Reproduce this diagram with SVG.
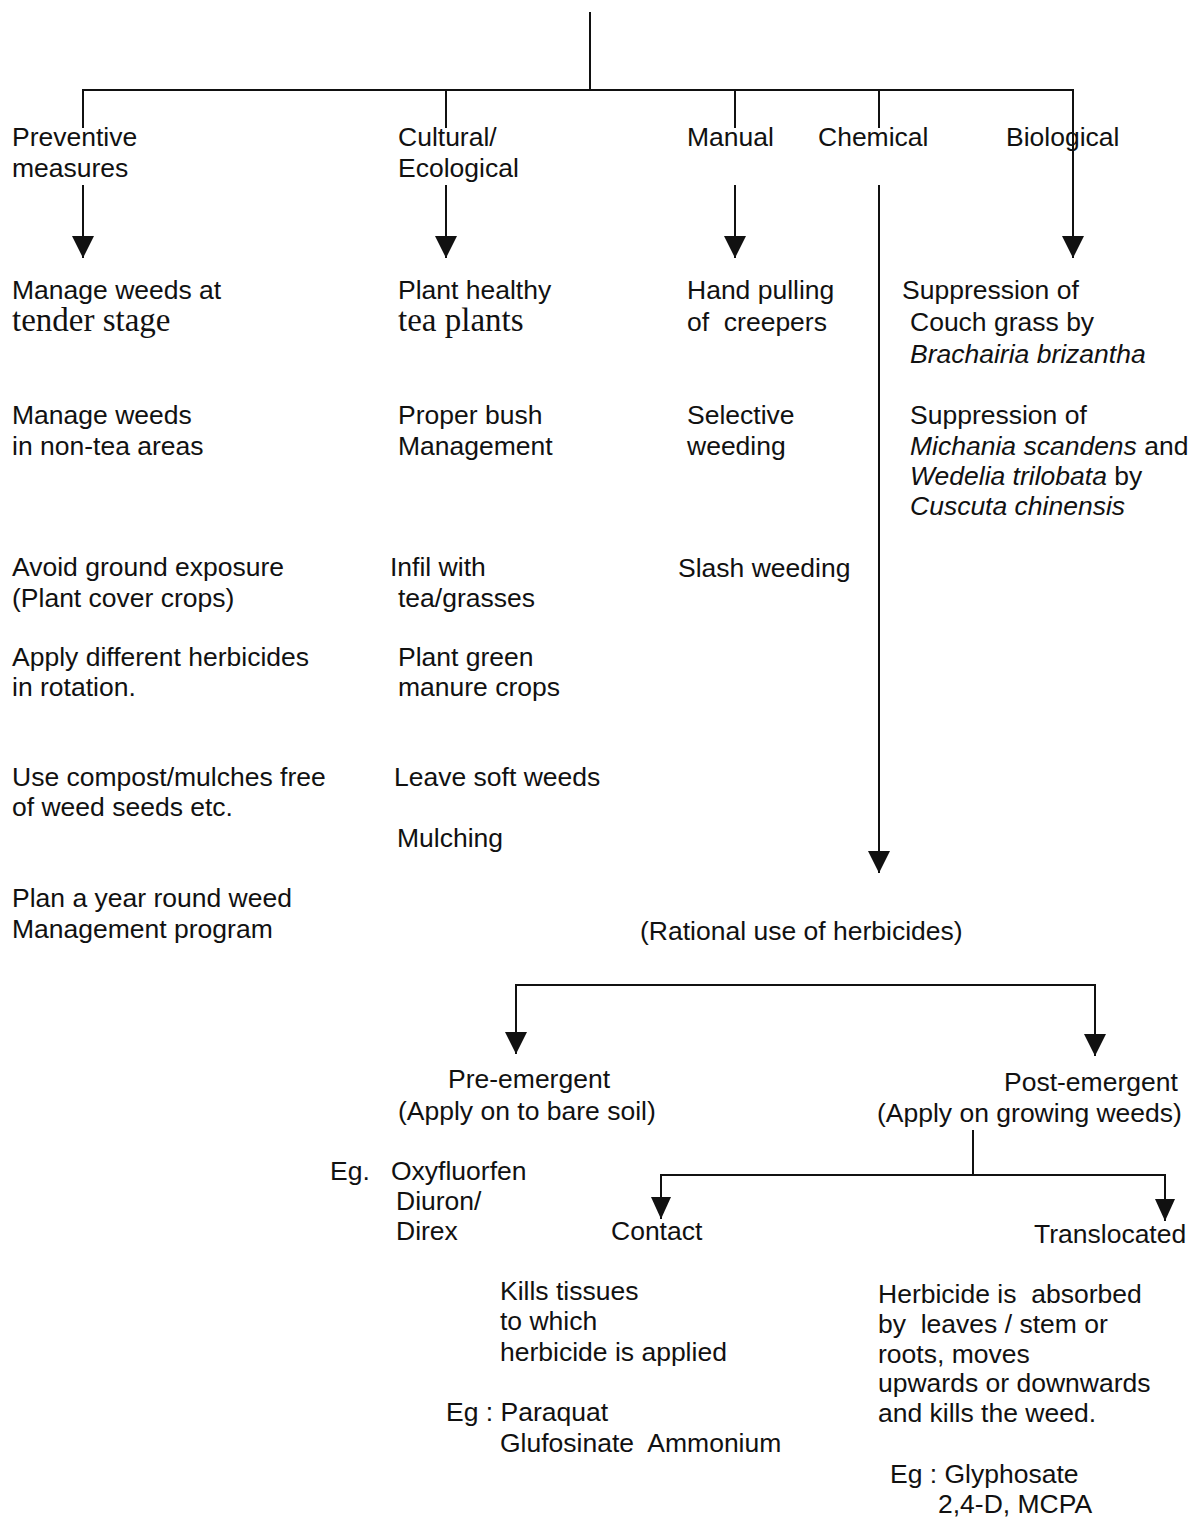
<svg xmlns="http://www.w3.org/2000/svg" width="1192" height="1520" viewBox="0 0 1192 1520">
<style>
  text { font-family: "Liberation Sans", Arial, sans-serif; font-size: 26.5px; fill: #111; }
  .serif { font-family: "Liberation Serif", "Times New Roman", serif; font-size: 33px; }
  .it { font-style: italic; }
  .ln { stroke: #111; stroke-width: 2; fill: none; }
  .ar { marker-end: url(#ah); }
  .ars { marker-end: url(#ahs); }
</style>
<defs>
  <marker id="ah" markerUnits="userSpaceOnUse" markerWidth="24" markerHeight="24" viewBox="0 0 24 24" refX="22" refY="11" orient="auto">
    <path d="M0,0 L22,11 L0,22 z" fill="#111"/>
  </marker>
  <marker id="ahs" markerUnits="userSpaceOnUse" markerWidth="24" markerHeight="24" viewBox="0 0 24 24" refX="22" refY="11" orient="auto">
    <path d="M0,1 L22,11 L0,21 z" fill="#111"/>
  </marker>
</defs>
<rect width="1192" height="1520" fill="#fff"/>

<g id="connectors">
  <line class="ln" x1="590" y1="12" x2="590" y2="90"/>
  <line class="ln" x1="82" y1="90" x2="1074" y2="90"/>
  <line class="ln" x1="83" y1="90" x2="83" y2="128"/>
  <line class="ln" x1="446" y1="90" x2="446" y2="128"/>
  <line class="ln" x1="735" y1="90" x2="735" y2="128"/>
  <line class="ln" x1="879" y1="90" x2="879" y2="128"/>
  <line class="ln ar" x1="1073" y1="90" x2="1073" y2="258"/>
  <line class="ln ar" x1="83" y1="185" x2="83" y2="258"/>
  <line class="ln ar" x1="446" y1="185" x2="446" y2="258"/>
  <line class="ln ar" x1="735" y1="185" x2="735" y2="258"/>
  <line class="ln ar" x1="879" y1="185" x2="879" y2="873"/>
  <line class="ln" x1="515" y1="985" x2="1096" y2="985"/>
  <line class="ln ar" x1="516" y1="985" x2="516" y2="1054"/>
  <line class="ln ar" x1="1095" y1="985" x2="1095" y2="1056"/>
  <line class="ln" x1="973" y1="1130" x2="973" y2="1175"/>
  <line class="ln" x1="660" y1="1175" x2="1166" y2="1175"/>
  <line class="ln ars" x1="661" y1="1175" x2="661" y2="1219"/>
  <line class="ln ars" x1="1165" y1="1175" x2="1165" y2="1221"/>
</g>

<g id="preventive">
  <text x="12" y="146">Preventive</text>
  <text x="12" y="177">measures</text>
</g>
<g id="cultural">
  <text x="398" y="146">Cultural/</text>
  <text x="398" y="177">Ecological</text>
</g>
<g id="manual"><text x="687" y="146">Manual</text></g>
<g id="chemical"><text x="818" y="146">Chemical</text></g>
<g id="biological"><text x="1006" y="146">Biological</text></g>

<g id="prev-items">
  <text x="12" y="299">Manage weeds at</text>
  <text class="serif" x="12" y="331">tender stage</text>
  <text x="12" y="424">Manage weeds</text>
  <text x="12" y="455">in non-tea areas</text>
  <text x="12" y="576">Avoid ground exposure</text>
  <text x="12" y="607">(Plant cover crops)</text>
  <text x="12" y="666">Apply different herbicides</text>
  <text x="12" y="696">in rotation.</text>
  <text x="12" y="786">Use compost/mulches free</text>
  <text x="12" y="816">of weed seeds etc.</text>
  <text x="12" y="907">Plan a year round weed</text>
  <text x="12" y="938">Management program</text>
</g>

<g id="cult-items">
  <text x="398" y="299">Plant healthy</text>
  <text class="serif" x="398" y="331">tea plants</text>
  <text x="398" y="424">Proper bush</text>
  <text x="398" y="455">Management</text>
  <text x="390" y="576">Infil with</text>
  <text x="398" y="607">tea/grasses</text>
  <text x="398" y="666">Plant green</text>
  <text x="398" y="696">manure crops</text>
  <text x="394" y="786">Leave soft weeds</text>
  <text x="397" y="847">Mulching</text>
</g>

<g id="manual-items">
  <text x="687" y="299">Hand pulling</text>
  <text x="687" y="331" xml:space="preserve">of  creepers</text>
  <text x="687" y="424">Selective</text>
  <text x="687" y="455">weeding</text>
  <text x="678" y="577">Slash weeding</text>
</g>

<g id="bio-items">
  <text x="902" y="299">Suppression of</text>
  <text x="910" y="331">Couch grass by</text>
  <text class="it" x="910" y="363">Brachairia brizantha</text>
  <text x="910" y="424">Suppression of</text>
  <text x="910" y="455"><tspan class="it">Michania scandens</tspan> and</text>
  <text x="910" y="485"><tspan class="it">Wedelia trilobata</tspan> by</text>
  <text class="it" x="910" y="515">Cuscuta chinensis</text>
</g>

<g id="rational"><text x="640" y="940">(Rational use of herbicides)</text></g>

<g id="pre-emergent">
  <text x="448" y="1088">Pre-emergent</text>
  <text x="398" y="1120">(Apply on to bare soil)</text>
</g>
<g id="pre-eg">
  <text x="330" y="1180">Eg.</text>
  <text x="391" y="1180">Oxyfluorfen</text>
  <text x="396" y="1210">Diuron/</text>
  <text x="396" y="1240">Direx</text>
</g>

<g id="post-emergent">
  <text x="1004" y="1091">Post-emergent</text>
  <text x="877" y="1122">(Apply on growing weeds)</text>
</g>

<g id="contact">
  <text x="611" y="1240">Contact</text>
</g>
<g id="contact-desc">
  <text x="500" y="1300">Kills tissues</text>
  <text x="500" y="1330">to which</text>
  <text x="500" y="1361">herbicide is applied</text>
  <text x="446" y="1421">Eg : Paraquat</text>
  <text x="500" y="1452" xml:space="preserve">Glufosinate  Ammonium</text>
</g>

<g id="translocated">
  <text x="1034" y="1243">Translocated</text>
</g>
<g id="transloc-desc">
  <text x="878" y="1303" xml:space="preserve">Herbicide is  absorbed</text>
  <text x="878" y="1333" xml:space="preserve">by  leaves / stem or</text>
  <text x="878" y="1363">roots, moves</text>
  <text x="878" y="1392">upwards or downwards</text>
  <text x="878" y="1422">and kills the weed.</text>
  <text x="890" y="1483">Eg : Glyphosate</text>
  <text x="938" y="1513">2,4-D, MCPA</text>
</g>
</svg>
